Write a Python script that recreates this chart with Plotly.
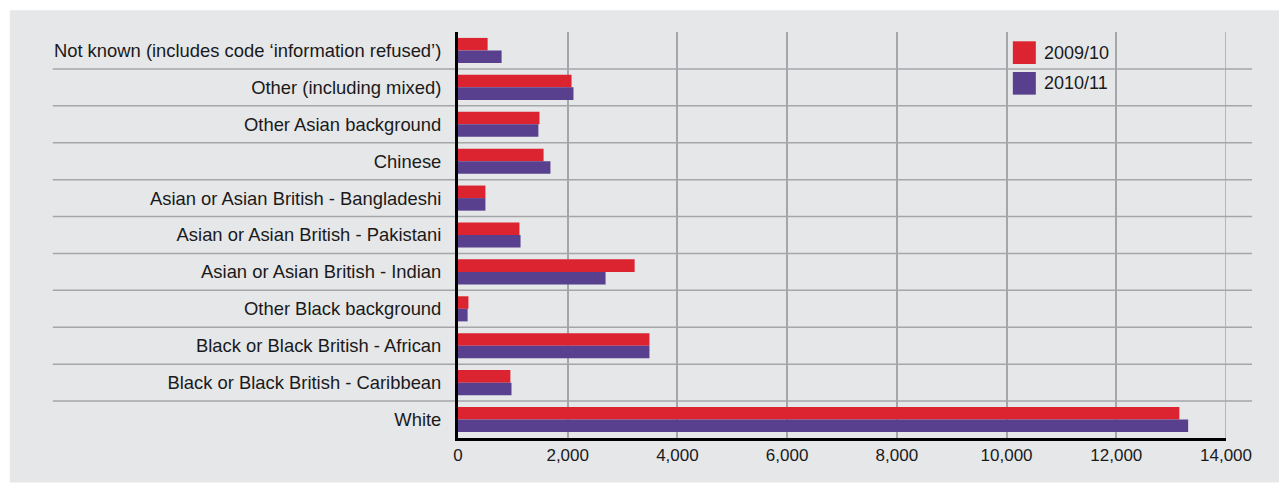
import plotly.graph_objects as go

# Ethnic group categories, listed top to bottom
categories = [
    "Not known (includes code ‘information refused’)",
    "Other (including mixed)",
    "Other Asian background",
    "Chinese",
    "Asian or Asian British - Bangladeshi",
    "Asian or Asian British - Pakistani",
    "Asian or Asian British - Indian",
    "Other Black background",
    "Black or Black British - African",
    "Black or Black British - Caribbean",
    "White",
]
series_names = ["2009/10", "2010/11"]
values_2009_10 = [540, 2070, 1485, 1560, 500, 1120, 3220, 190, 3490, 955, 13150]
values_2010_11 = [795, 2105, 1465, 1685, 500, 1140, 2690, 175, 3490, 975, 13310]
x_ticks = [0, 2000, 4000, 6000, 8000, 10000, 12000, 14000]
x_tick_labels = ["0", "2,000", "4,000", "6,000", "8,000", "10,000", "12,000", "14,000"]

colors = ["#dc2430", "#58408e"]
bg = "#e6e7e9"
grid = "#a5a6a9"
W, H = 1279, 483
L, R, T, B = 457.5, 1226.0, 31.7, 438.0

def px(xp):
    return (xp - L) / (R - L)

def py(yp):
    return (B - yp) / (B - T)

fig = go.Figure()
for name, vals, c in zip(series_names, [values_2009_10, values_2010_11], colors):
    fig.add_trace(go.Bar(
        y=categories, x=vals, name=name, orientation="h",
        marker=dict(color=c, line=dict(width=0)), showlegend=False,
    ))

shapes = [
    # grey panel
    dict(type="rect", xref="paper", yref="paper", x0=px(9), x1=px(1279),
         y0=py(482.5), y1=py(10), fillcolor=bg, line=dict(width=0), layer="below"),
    # closing gridline at the end of the value axis
    dict(type="line", xref="x", yref="paper", x0=x_ticks[-1], x1=x_ticks[-1],
         y0=0, y1=1, line=dict(color=grid, width=1.5), layer="below"),
]
# separators between categories, running into the label column
for i in range(len(categories) - 1):
    shapes.append(dict(type="line", xref="paper", yref="y", x0=px(52), x1=px(1252),
                       y0=i + 0.5, y1=i + 0.5, line=dict(color=grid, width=1.5),
                       layer="below"))

# legend swatches and labels
annotations = []
for k, (name, c) in enumerate(zip(series_names, colors)):
    y0 = 41 + k * 30.7
    shapes.append(dict(type="rect", xref="paper", yref="paper", x0=px(1012.7), x1=px(1035.7),
                       y0=py(y0 + 22.7), y1=py(y0), fillcolor=c, line=dict(width=0)))
    annotations.append(dict(xref="paper", yref="paper", x=px(1042), y=py(y0 + 11.5),
                            text=name, showarrow=False, xanchor="left", yanchor="middle",
                            font=dict(size=18, color="#1a1a1a",
                                      family="Liberation Sans, Arial, sans-serif")))

fig.update_layout(
    width=W, height=H,
    margin=dict(l=L, r=W - R, t=T, b=H - B, pad=0),
    paper_bgcolor="white", plot_bgcolor=bg,
    barmode="group", bargap=0.32, bargroupgap=0,
    shapes=shapes, annotations=annotations,
    font=dict(family="Liberation Sans, Arial, sans-serif", color="#1a1a1a"),
    xaxis=dict(range=[0, 14000], tickvals=x_ticks, ticktext=x_tick_labels,
               showgrid=True, gridcolor=grid, gridwidth=1.5, zeroline=False,
               showline=True, linecolor="black", linewidth=3, ticks="", ticklen=0,
               ticklabelstandoff=0, tickfont=dict(size=17)),
    yaxis=dict(categoryorder="array", categoryarray=categories, autorange="reversed",
               showgrid=False, zeroline=False, showline=True, linecolor="black",
               linewidth=3, ticks="", ticklen=0, ticklabelstandoff=10,
               tickfont=dict(size=18.4)),
)

fig.write_html("out.html")
